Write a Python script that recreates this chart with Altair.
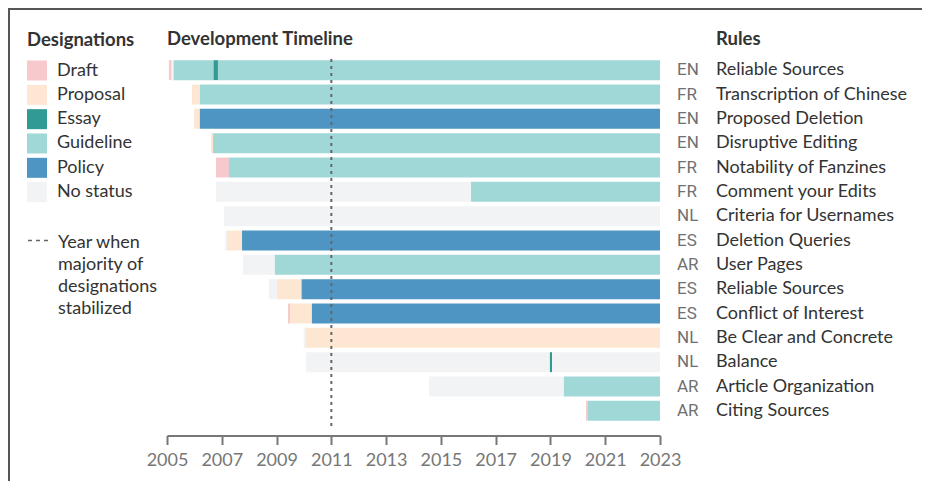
import altair as alt
import pandas as pd

# ---------------- data ----------------
rule_codes = ["EN", "FR", "EN", "EN", "FR", "FR", "NL", "ES", "AR", "ES", "ES", "NL", "NL", "AR", "AR"]
rule_names = ["Reliable Sources", "Transcription of Chinese", "Proposed Deletion", "Disruptive Editing",
              "Notability of Fanzines", "Comment your Edits", "Criteria for Usernames", "Deletion Queries",
              "User Pages", "Reliable Sources", "Conflict of Interest", "Be Clear and Concrete", "Balance",
              "Article Organization", "Citing Sources"]

statuses = ["Draft", "Proposal", "Essay", "Guideline", "Policy", "No status"]
status_colors = ["#f8c9cc", "#fde7d2", "#329a94", "#a0d8d8", "#4f95c3", "#f2f3f5"]

seg_row = [0, 0, 0, 0, 0,
           1, 1,
           2, 2,
           3, 3,
           4, 4,
           5, 5,
           6,
           7, 7, 7,
           8, 8,
           9, 9, 9, 9,
           10, 10, 10,
           11, 11,
           12, 12, 12,
           13, 13,
           14, 14]
seg_status = ["Draft", "No status", "Guideline", "Essay", "Guideline",
              "Proposal", "Guideline",
              "Proposal", "Policy",
              "Proposal", "Guideline",
              "Draft", "Guideline",
              "No status", "Guideline",
              "No status",
              "No status", "Proposal", "Policy",
              "No status", "Guideline",
              "No status", "Proposal", "Guideline", "Policy",
              "Draft", "Proposal", "Policy",
              "No status", "Proposal",
              "No status", "Essay", "No status",
              "No status", "Guideline",
              "Draft", "Guideline"]
seg_start = [2005.07, 2005.17, 2005.24, 2006.70, 2006.86,
             2005.91, 2006.20,
             2005.99, 2006.20,
             2006.61, 2006.68,
             2006.79, 2007.26,
             2006.79, 2016.10,
             2007.08,
             2007.12, 2007.19, 2007.74,
             2007.77, 2008.94,
             2008.72, 2009.02, 2009.89, 2009.93,
             2009.42, 2009.49, 2010.29,
             2009.99, 2010.07,
             2010.07, 2018.98, 2019.06,
             2014.57, 2019.49,
             2020.30, 2020.37]
end_year = 2023
stabilized_year = 2011
tick_years = [2005, 2007, 2009, 2011, 2013, 2015, 2017, 2019, 2021, 2023]
legend_note = "Year when\nmajority of\ndesignations\nstabilized"

# ---------------- tables ----------------
row_ids = [f"{c} {n}" for c, n in zip(rule_codes, rule_names)]
seg_end = []
for i in range(len(seg_row)):
    if i + 1 < len(seg_row) and seg_row[i + 1] == seg_row[i]:
        seg_end.append(seg_start[i + 1])
    else:
        seg_end.append(end_year)
seg_df = pd.DataFrame({
    "row": [row_ids[r] for r in seg_row],
    "status": seg_status,
    "start": seg_start,
    "end": seg_end,
})
label_df = pd.DataFrame({"row": row_ids, "code": rule_codes, "name": rule_names})
rule_df = pd.DataFrame({"year": [stabilized_year]})
one = pd.DataFrame({"k": [0]})

FONT = "Lato"
DARK = "#333333"
GRAY = "#777777"

y_enc = alt.Y("row:N", sort=row_ids, axis=None,
              scale=alt.Scale(paddingInner=0.18, paddingOuter=0.09))
x_scale = alt.Scale(domain=[2005, 2023], nice=False, zero=False)

bars = alt.Chart(seg_df).mark_bar(strokeWidth=0).encode(
    x=alt.X("start:Q", scale=x_scale,
            axis=alt.Axis(values=tick_years, format="d", title=None, grid=False,
                          offset=12.5, domainColor=GRAY, domainWidth=2,
                          tickColor=GRAY, tickWidth=2, tickSize=9,
                          labelFont=FONT, labelFontSize=18, labelColor=GRAY,
                          labelPadding=7, labelFlush=False)),
    x2="end:Q",
    y=y_enc,
    color=alt.Color("status:N", scale=alt.Scale(domain=statuses, range=status_colors),
                    legend=alt.Legend(title="Designations", orient="none",
                                      legendX=-140, legendY=-27,
                                      symbolType="square", symbolSize=400,
                                      symbolStrokeWidth=0, symbolOpacity=1,
                                      labelFont=FONT, labelFontSize=18, labelColor=DARK,
                                      labelOffset=10, rowPadding=4.33,
                                      titleFont=FONT, titleFontSize=18.5, titleFontWeight="bold",
                                      titleColor=DARK, titlePadding=11)),
)

stab_rule = alt.Chart(rule_df).mark_rule(color="#666666", strokeWidth=2, strokeDash=[3, 4]).encode(
    x=alt.X("year:Q", scale=x_scale),
    y=alt.value(1), y2=alt.value(372),
)

codes = alt.Chart(label_df).mark_text(align="left", baseline="middle", font="Roboto",
                                      fontSize=17, color="#707070").encode(
    y=y_enc, x=alt.value(510), text="code:N")
names = alt.Chart(label_df).mark_text(align="left", baseline="middle", font=FONT,
                                      fontSize=18, color=DARK).encode(
    y=y_enc, x=alt.value(549), text="name:N")

def header(txt, xpos):
    return alt.Chart(pd.DataFrame({"t": [txt]})).mark_text(
        align="left", baseline="middle", font=FONT, fontSize=18.5, fontWeight="bold", color=DARK
    ).encode(x=alt.value(xpos), y=alt.value(-19), text="t:N")

h_timeline = header("Development Timeline", 0)
h_rules = header("Rules", 549)

leg_dash = alt.Chart(one).mark_rule(color="#666666", strokeWidth=1.5, strokeDash=[4, 4]).encode(
    x=alt.value(-139), x2=alt.value(-119), y=alt.value(182.5))
leg_text = alt.Chart(pd.DataFrame({"t": [legend_note]})).mark_text(
    align="left", baseline="middle", font=FONT, fontSize=18, color=DARK, lineBreak="\n", lineHeight=22
).encode(x=alt.value(-109), y=alt.value(185), text="t:N")

frame_top = alt.Chart(one).mark_rule(color="#555555", strokeWidth=2).encode(
    x=alt.value(-159), x2=alt.value(755), y=alt.value(-49))
frame_left = alt.Chart(one).mark_rule(color="#555555", strokeWidth=2).encode(
    x=alt.value(-158), y=alt.value(-50), y2=alt.value(423))

chart = alt.layer(
    bars, stab_rule, codes, names, h_timeline, h_rules, leg_dash, leg_text, frame_top, frame_left
).properties(
    width=493, height=365,
    padding={"left": 159, "top": 50, "right": 262, "bottom": 58},
    autosize=alt.AutoSizeParams(type="none"),
).configure_view(stroke=None)

chart.save("out.html", embed_options={"renderer": "svg", "actions": False})
